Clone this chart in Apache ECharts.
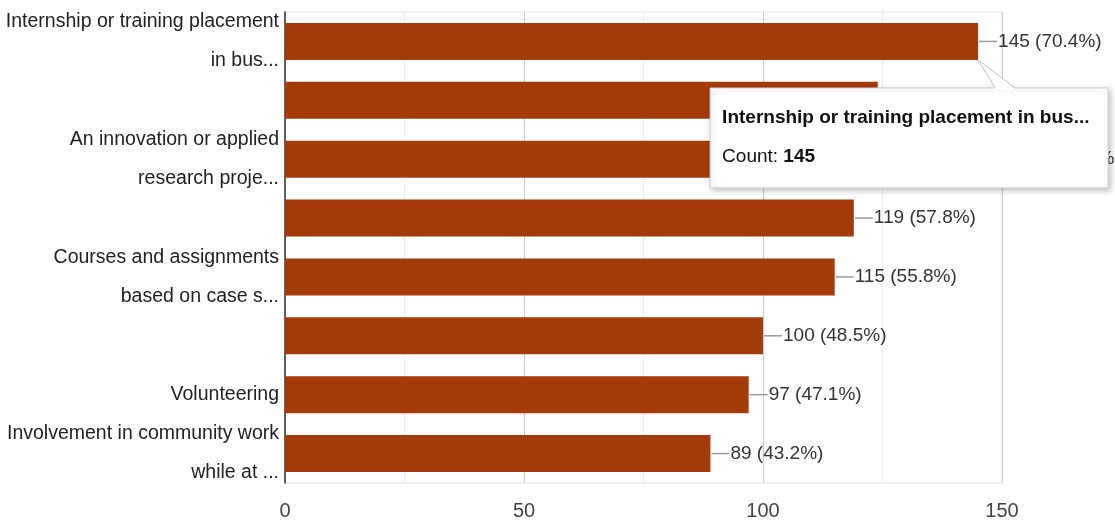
<!DOCTYPE html>
<html>
<head>
<meta charset="utf-8">
<style>
  html, body { margin: 0; padding: 0; background: #ffffff; }
  #chart { width: 1115px; height: 526px; }
</style>
<script src="https://cdn.jsdelivr.net/npm/echarts@6/dist/echarts.min.js"></script>
</head>
<body>
<div id="chart"></div>
<script>
// Response options (labels as truncated in the chart; unlabeled rows keep an empty name)
const categories = [
  'Internship or training placement\nin bus...',
  '',
  'An innovation or applied\nresearch proje...',
  '',
  'Courses and assignments\nbased on case s...',
  '',
  'Volunteering',
  'Involvement in community work\nwhile at ...'
];
const counts = [145, 124, 149, 119, 115, 100, 97, 89];
const percents = ['70.4', '60.2', '72.3', '57.8', '55.8', '48.5', '47.1', '43.2'];
const xTicks = [0, 50, 100, 150];

// Hovered row shown in the callout
const hoverIndex = 0;
const hoverTitle = 'Internship or training placement in bus...';

const FONT = "'Liberation Sans', Arial, sans-serif";
const BAR_COLOR = '#a53b0a';

const chart = echarts.init(document.getElementById('chart'), null, { renderer: 'canvas' });

chart.setOption({
  animation: false,
  backgroundColor: '#ffffff',
  grid: {
    left: 285, right: 113, top: 12, bottom: 43,
    containLabel: false, outerBoundsMode: 'none',
    show: true, borderColor: '#e2e2e2', borderWidth: 1, backgroundColor: 'transparent'
  },
  xAxis: {
    type: 'value',
    min: 0, max: 150, interval: 25,
    axisLine: { show: false },
    axisTick: { show: false },
    axisLabel: {
      margin: 18,
      fontFamily: FONT, fontSize: 20, color: '#444',
      formatter: v => (xTicks.indexOf(v) >= 0 ? String(v) : '')
    },
    splitLine: { show: true, lineStyle: { color: ['#cccccc', '#ececec'], width: 1 } }
  },
  yAxis: {
    type: 'category',
    inverse: true,
    data: categories,
    axisLine: { show: true, lineStyle: { color: '#333', width: 1.5 } },
    axisTick: { show: false },
    axisLabel: {
      interval: 0,
      margin: 6,
      fontFamily: FONT, fontSize: 19.5, color: '#222', lineHeight: 39, align: 'right'
    }
  },
  series: [{
    type: 'bar',
    data: counts,
    barCategoryGap: '37%',
    itemStyle: { color: BAR_COLOR },
    label: {
      show: true,
      position: 'right',
      distance: 1,
      formatter: p => '{l|}{t|' + counts[p.dataIndex] + ' (' + percents[p.dataIndex] + '%)}',
      rich: {
        l: { width: 18, height: 1.5, backgroundColor: '#9a9a9a' },
        t: { fontFamily: FONT, fontSize: 19, color: '#333', padding: [0, 0, 0, 1] }
      }
    }
  }]
});

// Hover callout anchored at the end of the hovered bar
function drawCallout() {
  const center = chart.convertToPixel({ seriesIndex: 0 }, [counts[hoverIndex], hoverIndex]);
  const layout = chart.getModel().getSeriesByIndex(0).getData().getItemLayout(hoverIndex);
  const barBottom = layout.y + layout.height;
  const ax = center[0];
  const boxTop = barBottom + 28;
  const boxLeft = ax - 268;
  const boxW = 398, boxH = 100;
  const notchL = ax + 17, notchR = ax + 37;

  chart.setOption({
    graphic: [
      {
        type: 'rect', z: 100,
        shape: { x: boxLeft, y: boxTop, width: boxW, height: boxH },
        style: {
          fill: '#ffffff', stroke: '#cfcfcf', lineWidth: 1,
          shadowBlur: 6, shadowOffsetX: 2, shadowOffsetY: 2, shadowColor: 'rgba(0,0,0,0.25)'
        }
      },
      {
        type: 'polygon', z: 101,
        shape: { points: [[ax, barBottom], [notchL, boxTop + 1], [notchR, boxTop + 1]] },
        style: { fill: '#ffffff' }
      },
      {
        type: 'polyline', z: 102,
        shape: { points: [[notchL, boxTop], [ax, barBottom], [notchR, boxTop]] },
        style: { stroke: '#bdbdbd', lineWidth: 1, fill: null }
      },
      {
        type: 'text', z: 103,
        x: boxLeft + 12, y: boxTop + 20,
        style: {
          text: hoverTitle,
          fontFamily: FONT, fontSize: 19, fontWeight: 'bold', fill: '#111'
        }
      },
      {
        type: 'text', z: 103,
        x: boxLeft + 12, y: boxTop + 59,
        style: {
          text: '{a|Count: }{b|' + counts[hoverIndex] + '}',
          fontFamily: FONT, fontSize: 19, fill: '#111',
          rich: {
            a: { fontFamily: FONT, fontSize: 19, fill: '#111' },
            b: { fontFamily: FONT, fontSize: 19, fontWeight: 'bold', fill: '#111' }
          }
        }
      }
    ]
  });
}
drawCallout();
</script>
</body>
</html>
